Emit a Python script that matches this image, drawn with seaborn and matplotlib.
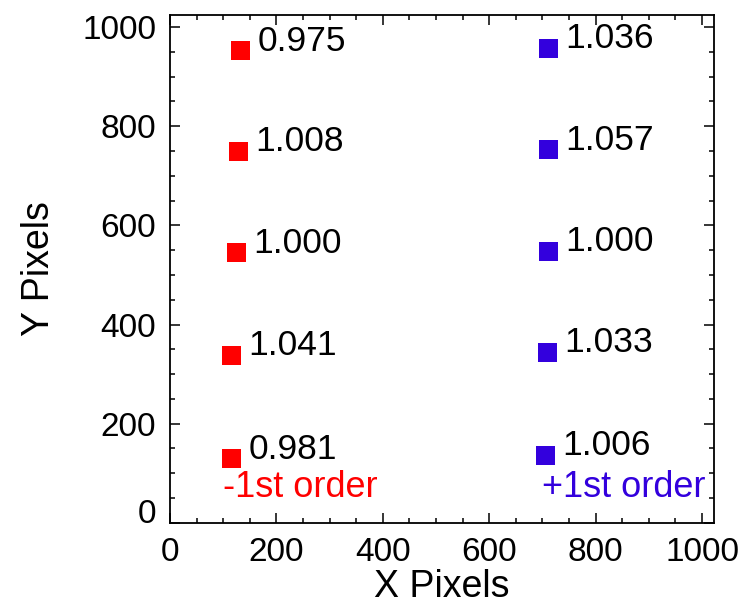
import numpy as np
import pandas as pd
import matplotlib
matplotlib.use('Agg')
import matplotlib.pyplot as plt
import matplotlib.transforms as mtransforms
from matplotlib.ticker import MultipleLocator
import seaborn as sns

# spot positions (detector pixels) and relative throughput for each order
minus_x = [133, 128, 125, 116, 116]
minus_y = [952, 749, 545, 338, 129]
minus_val = [0.975, 1.008, 1.000, 1.041, 0.981]

plus_x = [711, 711, 711, 709, 705]
plus_y = [957, 752, 548, 344, 136]
plus_val = [1.036, 1.057, 1.000, 1.033, 1.006]

orders = ['-1st order', '+1st order']
colors = ['#ff0000', '#3300dd']

df = pd.concat([
    pd.DataFrame({'x': minus_x, 'y': minus_y, 'val': minus_val, 'order': orders[0]}),
    pd.DataFrame({'x': plus_x, 'y': plus_y, 'val': plus_val, 'order': orders[1]}),
], ignore_index=True)

sns.set_style('ticks')
plt.rcParams['font.family'] = ['Liberation Sans', 'DejaVu Sans']
plt.rcParams['text.color'] = 'black'
plt.rcParams['axes.labelcolor'] = 'black'

fig = plt.figure(figsize=(7.49, 6.13), dpi=100)
ax = fig.add_axes([0.227, 0.147, 0.726, 0.8285])

sns.scatterplot(data=df, x='x', y='y', hue='order', hue_order=orders,
                palette=colors, marker='s', s=185, linewidth=0,
                legend=False, ax=ax, zorder=3)

for _, r in df.iterrows():
    ax.annotate(f"{r['val']:.3f}", (r['x'], r['y']), xytext=(12, 0),
                textcoords='offset points', ha='left', va='baseline',
                fontsize=25.5, color='black')

ax.text(100, 52, orders[0], color=colors[0], fontsize=26, ha='left', va='baseline')
ax.text(700, 52, orders[1], color=colors[1], fontsize=26, ha='left', va='baseline')

ax.set_xlim(0, 1022)
ax.set_ylim(0, 1024)
ax.set_xticks([0, 200, 400, 600, 800, 1000])
ax.set_yticks([0, 200, 400, 600, 800, 1000])
ax.xaxis.set_minor_locator(MultipleLocator(50))
ax.yaxis.set_minor_locator(MultipleLocator(50))
ax.tick_params(which='both', direction='in', top=True, right=True,
               width=1.1, color='black', labelsize=24, labelcolor='black')
ax.tick_params(which='major', length=7, pad=10)
ax.tick_params(which='minor', length=3.5)
for s in ax.spines.values():
    s.set_visible(True)
    s.set_linewidth(1.3)
    s.set_color('black')

ax.set_xlabel('X Pixels', fontsize=27, labelpad=1)
ax.set_ylabel('Y Pixels', fontsize=27, labelpad=18)

# IDL nudges the bottom y label up off the corner
lab0 = ax.yaxis.get_major_ticks()[0].label1
lab0.set_transform(lab0.get_transform() +
                   mtransforms.ScaledTranslation(0, 0.12, fig.dpi_scale_trans))

fig.savefig('out.png', dpi=100)
